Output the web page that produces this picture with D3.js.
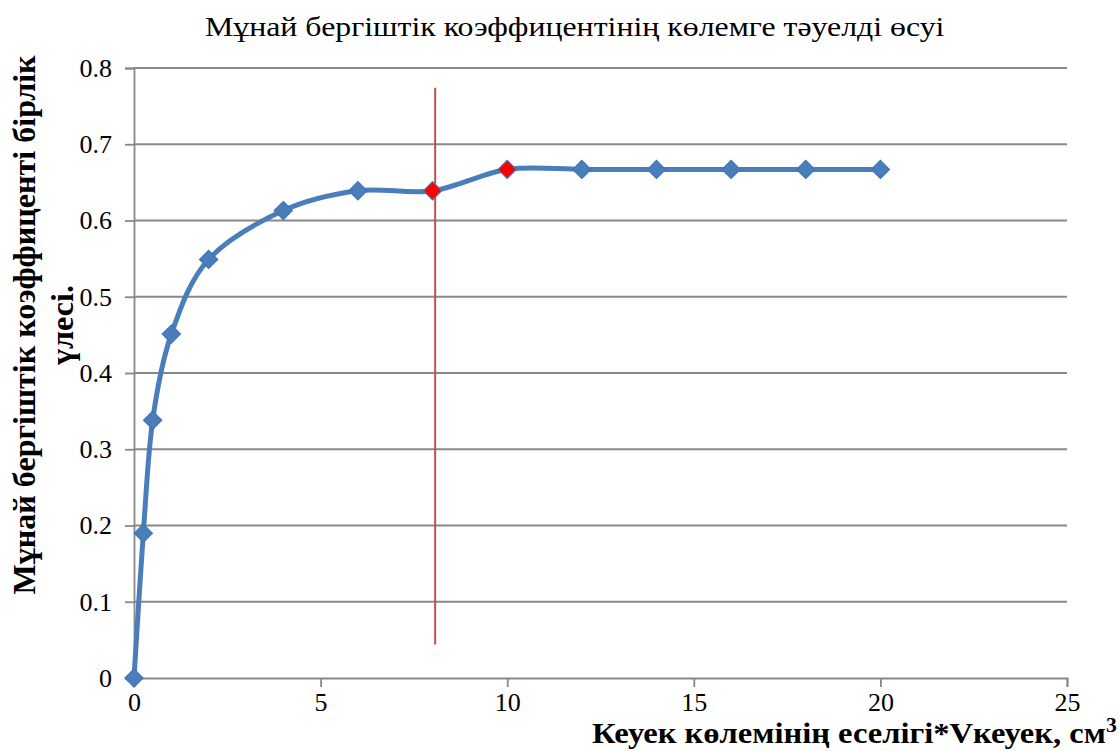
<!DOCTYPE html>
<html><head><meta charset="utf-8">
<script src="https://cdn.jsdelivr.net/npm/d3@7"></script>
<style>body{margin:0;background:#fff}svg{display:block}</style>
</head><body>
<svg id="c" width="1119" height="751"></svg>
<script>
const xValues = [0, 0.25, 0.5, 1, 2, 4, 6, 8, 10, 12, 14, 16, 18, 20];
const yValues = [0, 0.19, 0.338, 0.451, 0.549, 0.613, 0.639, 0.639, 0.667, 0.667, 0.667, 0.667, 0.667, 0.667];
const highlighted = [false, false, false, false, false, false, false, true, true, false, false, false, false, false];
const xTicks = [0, 5, 10, 15, 20, 25];
const yTicks = [0, 0.1, 0.2, 0.3, 0.4, 0.5, 0.6, 0.7, 0.8];
const markerLineX = [8.07, 8.07];
const markerLineY = [0.774, 0.044];
const title = "Мұнай бергіштік коэффицентінің көлемге тәуелді өсуі";
const yTitle = ["Мұнай бергіштік коэффиценті бірлік", "үлесі."];
const xTitle = "Кеуек көлемінің еселігі*Vкеуек, см";

const svg = d3.select("#c");
const L = 134, R = 1067, T = 68, B = 678;
const x = d3.scaleLinear().domain([0, 25]).range([L, R]);
const y = d3.scaleLinear().domain([0, 0.8]).range([B, T]);
const grid = "#888888";
const serif = "'Times New Roman', 'Liberation Serif', serif";

function fitWidth(sel, target) {
  return target / sel.node().getBBox().width;
}

// gridlines
svg.append("g").selectAll("line").data(yTicks.filter(d => d > 0)).join("line")
  .attr("x1", L).attr("x2", R).attr("y1", d => y(d)).attr("y2", d => y(d))
  .attr("stroke", grid).attr("stroke-width", 1.8);

// axes
const yAxis = svg.append("g").attr("transform", `translate(${L},0)`)
  .call(d3.axisLeft(y).tickValues(yTicks).tickSize(9).tickPadding(13).tickFormat(d => d === 0 ? "0" : d3.format(".1f")(d)));
const xAxis = svg.append("g").attr("transform", `translate(0,${B})`)
  .call(d3.axisBottom(x).tickValues(xTicks).tickSize(9).tickPadding(6).tickFormat(d3.format("d")));
[yAxis, xAxis].forEach(a => {
  a.attr("font-family", null).attr("font-size", null);
  a.select(".domain").attr("stroke", grid).attr("stroke-width", 1.8);
  a.selectAll(".tick line").attr("stroke", grid).attr("stroke-width", 1.8);
  a.selectAll("text").attr("fill", "#000").style("font-family", serif).style("font-size", "26px");
});

// red vertical line
svg.append("line")
  .attr("x1", x(markerLineX[0])).attr("x2", x(markerLineX[1]))
  .attr("y1", y(markerLineY[0])).attr("y2", y(markerLineY[1]))
  .attr("stroke", "#C0504D").attr("stroke-width", 2);

// series line
const pts = xValues.map((d, i) => [d, yValues[i], highlighted[i]]);
svg.append("path").datum(pts)
  .attr("d", d3.line().x(d => x(d[0])).y(d => y(d[1])).curve(d3.curveCatmullRom.alpha(0)))
  .attr("fill", "none").attr("stroke", "#4A7EBB").attr("stroke-width", 5).attr("stroke-linejoin", "round");

// markers
const sym = d3.symbol().type(d3.symbolDiamond2).size(210);
svg.append("g").selectAll("path").data(pts).join("path")
  .attr("d", sym).attr("transform", d => `translate(${x(d[0])},${y(d[1])})`)
  .attr("fill", d => d[2] ? "#FF0000" : "#4A7EBB")
  .attr("stroke", "#3F74B5").attr("stroke-width", 1.2);

// title
const tt = svg.append("text").attr("x", 0).attr("y", 0)
  .style("font-family", serif).style("font-size", "28px").attr("fill", "#000").text(title);
tt.attr("transform", `translate(205,36) scale(${fitWidth(tt, 740)},1)`);

// y title
const y1 = svg.append("text").style("font-family", serif).style("font-size", "32px").style("font-weight", "bold")
  .attr("text-anchor", "middle").text(yTitle[0]);
const s1 = fitWidth(y1, 540);
y1.attr("transform", `translate(35,325) rotate(-90) scale(${s1},1)`);
const y2 = svg.append("text").style("font-family", serif).style("font-size", "32px").style("font-weight", "bold")
  .attr("text-anchor", "middle").text(yTitle[1]);
y2.attr("transform", `translate(73,325) rotate(-90) scale(${s1},1)`);

// x title
const xt = svg.append("text").attr("x", 0).attr("y", 0)
  .style("font-family", serif).style("font-size", "30px").style("font-weight", "bold").text(xTitle);
xt.append("tspan").attr("dy", -11).style("font-size", "20px").text("3");
xt.attr("transform", `translate(592,743) scale(${fitWidth(xt, 525)},1)`);
</script>
</body></html>
